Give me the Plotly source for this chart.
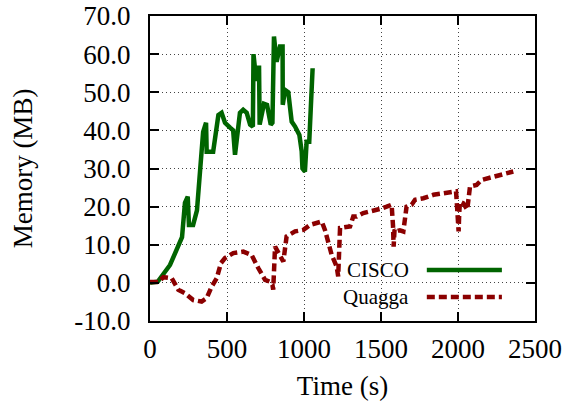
import plotly.graph_objects as go

# ---- data ----
cisco_t = [0, 50, 130, 175, 208, 227, 245, 253, 280, 305, 318, 325, 345, 364, 368, 410,
           444, 465, 487, 520, 540, 552, 584, 605, 628, 650, 668, 672, 690, 708, 712,
           740, 760, 784, 795, 805, 822, 844, 861, 862, 877, 898, 920, 942, 970, 985,
           990, 1006, 1017, 1034, 1056]
cisco_mem = [0, 0.3, 4.7, 8.7, 12, 21, 22.6, 15.2, 15.2, 19, 27, 29.6, 39.6, 42, 34.4, 34.4,
             44, 44.6, 42, 40.7, 40, 33.6, 44.6, 45.4, 44.6, 41.5, 41, 60, 53, 57, 41.5,
             47, 46.7, 41.5, 42, 64.6, 58, 62, 62, 46.7, 50.6, 50, 42.3, 41, 38.8, 34.5,
             30, 29.2, 37, 37, 56.3]

quagga_t = [0, 54, 87, 141, 184, 227, 281, 335, 368, 400, 433, 461, 487, 541, 606, 660,
            703, 747, 779, 795, 800, 812, 866, 887, 942, 996, 1039, 1115, 1136, 1180,
            1212, 1222, 1234, 1277, 1299, 1320, 1342, 1385, 1429, 1494, 1537, 1569, 1578,
            1582, 1588, 1600, 1623, 1645, 1666, 1699, 1721, 1775, 1840, 1927, 1987, 1991,
            2000, 2004, 2008, 2013, 2034, 2060, 2078, 2121, 2153, 2240, 2359]
quagga_mem = [0.2, 0.2, 1.5, 1.2, -1.8, -2.7, -4.5, -4.9, -4, -1, 1.2, 5.2, 6.5, 7.8, 8.2, 7.3,
              3.9, 0.8, 0.3, -0.5, -1.8, 9.5, 5.6, 12.2, 13.5, 13.9, 15.2, 16.1, 13.9, 7.3,
              4.3, 1.7, 14.4, 14.8, 14.8, 17.4, 17.4, 18.3, 18.7, 19.4, 20, 20.5, 15,
              9.5, 14, 13.5, 13.8, 13.5, 20, 20.5, 21.8, 22.2, 23.1, 23.5, 24, 21.8,
              18, 13.5, 18.3, 21.3, 20.9, 19.2, 25.3, 25.7, 27, 27.9, 29.2]

series_names = ["CISCO", "Quagga"]
x_ticks = [0, 500, 1000, 1500, 2000, 2500]
y_ticks = [-10, 0, 10, 20, 30, 40, 50, 60, 70]

GREEN = "#006400"
RED = "#8B0000"
FONT = "Liberation Serif"

fig = go.Figure()
fig.add_trace(go.Scatter(x=cisco_t, y=cisco_mem, mode="lines", name=series_names[0],
                         line=dict(color=GREEN, width=4.5)))
fig.add_trace(go.Scatter(x=quagga_t, y=quagga_mem, mode="lines", name=series_names[1],
                         line=dict(color=RED, width=4.5, dash="8px,4px")))

axis_common = dict(showline=True, linecolor="black", linewidth=2, mirror="ticks",
                   ticks="inside", ticklen=9, tickwidth=2, tickcolor="black",
                   showgrid=True, gridcolor="#444", gridwidth=1, griddash="1px,3px",
                   zeroline=False, automargin=False, ticklabeloverflow="allow",
                   tickfont=dict(family=FONT, size=27, color="black"))

fig.update_xaxes(range=[0, 2500], tickvals=x_ticks, ticktext=[str(v) for v in x_ticks],
                 title=dict(text="Time (s)", font=dict(family=FONT, size=27, color="black"),
                            standoff=13),
                 ticklabelstandoff=3, **axis_common)
fig.update_yaxes(range=[-10, 70], tickvals=y_ticks, ticktext=[f"{v:.1f}" for v in y_ticks],
                 title=dict(text="Memory (MB)", font=dict(family=FONT, size=27, color="black"),
                            standoff=34),
                 ticklabelstandoff=12, **axis_common)

# legend box (opaque, over grid, under data) drawn as in reference
fig.add_shape(type="rect", xref="paper", yref="paper", x0=0.423, x1=0.993, y0=0.026, y1=0.216,
              fillcolor="white", line=dict(width=0), layer="between")
for i, (name, col, dash) in enumerate([(series_names[0], GREEN, "solid"),
                                        (series_names[1], RED, "8px,4px")]):
    yp = [0.167, 0.079][i]
    fig.add_annotation(xref="paper", yref="paper", x=0.678, y=yp, text=name, showarrow=False,
                       xanchor="right", yanchor="middle",
                       font=dict(family=FONT, size=21, color="black"))
    fig.add_shape(type="line", xref="paper", yref="paper", x0=0.719, x1=0.914, y0=yp, y1=yp,
                  line=dict(color=col, width=4.5, dash=dash))

fig.update_layout(width=571, height=404, margin=dict(l=150, r=36, t=16, b=83),
                  plot_bgcolor="white", paper_bgcolor="white", showlegend=False,
                  font=dict(family=FONT, color="black"))

# remove the default page margin so the figure fills the 571x404 window exactly
fig.write_html("out.html", config={"displayModeBar": False},
               post_script="document.body.style.margin='0';")
